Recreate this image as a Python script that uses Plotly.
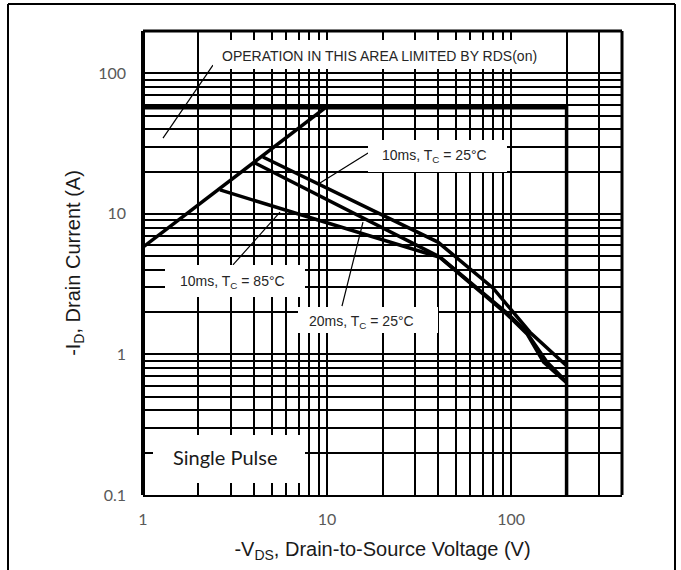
import plotly.graph_objects as go

# ---- data ---------------------------------------------------------------
# Operating-area boundaries
rds_v = [1, 9.8]
rds_i = [5.8, 57]
limit_v = [1, 200, 200]
limit_i = [57, 57, 0.1]

# Pulse curves (V_DS in volts, I_D in amps)
c10_25_v = [4.48, 40.0, 79.6, 126.5, 200]
c10_25_i = [25.4, 6.3, 2.97, 1.44, 0.83]

c20_25_v = [4.06, 41.0, 94.9, 118.9, 156.4, 200]
c20_25_i = [23.0, 4.93, 1.97, 1.49, 0.883, 0.637]

c10_85_v = [2.62, 41.0, 94.0, 122.0, 150.0, 200]
c10_85_i = [14.8, 4.90, 1.95, 1.40, 0.88, 0.63]

# Leader lines from the callouts to the curves
lead_rds_v = [2.40, 1.284]
lead_rds_i = [114.5, 34.6]
lead_10_25_v = [16.7, 9.15]
lead_10_25_i = [27.1, 16.6]
lead_10_85_v = [3.08, 5.55]
lead_10_85_i = [4.33, 10.3]
lead_20_25_v = [12.05, 15.67]
lead_20_25_i = [2.21, 8.75]

# Grid / ticks
x_major = [1, 10, 100]
x_major_text = ["1", "10", "100"]
x_minor = [2, 3, 4, 5, 6, 7, 8, 9, 20, 30, 40, 50, 60, 70, 80, 90, 200, 300, 400]
y_major = [0.1, 1, 10, 100]
y_major_text = ["0.1", "1", "10", "100"]
y_minor = [0.2, 0.3, 0.4, 0.5, 0.6, 0.7, 0.8, 0.9, 2, 3, 4, 5, 6, 7, 8, 9,
           20, 30, 40, 50, 60, 70, 80, 90, 200]

# ---- layout helpers -----------------------------------------------------
W, H = 681, 570
L, R, T, B = 143, 622, 31, 495
PW, PH = R - L, B - T

def px(x):
    return (x - L) / PW

def py(y):
    return (B - y) / PH

fig = go.Figure()

thick = dict(color="black", width=3.5)
thin = dict(color="black", width=1.2)

fig.add_trace(go.Scatter(x=rds_v, y=rds_i, mode="lines", line=thick))
fig.add_trace(go.Scatter(x=limit_v, y=limit_i, mode="lines", line=thick))
fig.add_trace(go.Scatter(x=c10_25_v, y=c10_25_i, mode="lines", line=thick))
fig.add_trace(go.Scatter(x=c20_25_v, y=c20_25_i, mode="lines", line=thick))
fig.add_trace(go.Scatter(x=c10_85_v, y=c10_85_i, mode="lines", line=thick))
for lv, li in [(lead_rds_v, lead_rds_i), (lead_10_25_v, lead_10_25_i),
               (lead_10_85_v, lead_10_85_i), (lead_20_25_v, lead_20_25_i)]:
    fig.add_trace(go.Scatter(x=lv, y=li, mode="lines", line=thin))

# white boxes behind callout text
boxes = [
    (213, 545, 40, 69),
    (368, 507, 140, 172),
    (165, 305, 265, 297),
    (298, 438, 307, 333),
    (153, 305, 435, 483),
]
shapes = []
for x0, x1, y0, y1 in boxes:
    shapes.append(dict(type="rect", xref="paper", yref="paper",
                       x0=px(x0), x1=px(x1), y0=py(y1), y1=py(y0),
                       fillcolor="white", line=dict(width=0), layer="above"))

# plot frame
shapes.append(dict(type="line", xref="paper", yref="paper", x0=0, x1=1, y0=1, y1=1,
                   line=dict(color="black", width=3), layer="above"))
shapes.append(dict(type="line", xref="paper", yref="paper", x0=1, x1=1, y0=0, y1=1,
                   line=dict(color="black", width=3), layer="above"))
shapes.append(dict(type="line", xref="paper", yref="paper", x0=0, x1=0, y0=0, y1=1,
                   line=dict(color="black", width=4), layer="above"))
# outer page border
for x0, y0, x1, y1 in [(8, 4, 8, 575), (8, 4, 675, 4), (675, 4, 675, 575)]:
    shapes.append(dict(type="line", xref="paper", yref="paper",
                       x0=px(x0), y0=py(y0), x1=px(x1), y1=py(y1),
                       line=dict(color="black", width=2), layer="above"))

label_font = dict(family="Arial, Liberation Sans, sans-serif", size=14, color="#262626")
annotations = [
    dict(text="OPERATION IN THIS AREA LIMITED BY RDS(on)", x=px(379.5), y=py(56)),
    dict(text="10ms, T<sub>C</sub> = 25°C", x=px(434), y=py(156)),
    dict(text="10ms, T<sub>C</sub> = 85°C", x=px(232.5), y=py(282)),
    dict(text="20ms, T<sub>C</sub> = 25°C", x=px(361.5), y=py(322)),
]
for a in annotations:
    a.update(xref="paper", yref="paper", showarrow=False, font=label_font,
             xanchor="center", yanchor="middle")
annotations.append(dict(text="Single Pulse", x=px(225), y=py(457), xref="paper", yref="paper",
                        showarrow=False, xanchor="center", yanchor="middle",
                        font=dict(family="Lato, sans-serif", size=20, color="#1a1a1a")))

title_font = dict(family="Arial, Liberation Sans, sans-serif", size=20, color="#1a1a1a")
tick_font = dict(family="Lato, sans-serif", size=16, color="#595959")
common = dict(type="log", showgrid=True, gridcolor="black", gridwidth=1.8, zeroline=False,
              ticks="", automargin=False, tickfont=tick_font, tickmode="array")

fig.update_layout(
    template="none",
    width=W, height=H,
    margin=dict(l=L, r=W - R, t=T, b=H - B, pad=0),
    paper_bgcolor="white", plot_bgcolor="white",
    showlegend=False,
    shapes=shapes,
    annotations=annotations,
    xaxis=dict(range=[0, 2.60206], tickvals=x_major, ticktext=x_major_text,
               showline=True, linecolor="black", linewidth=2, ticklabelstandoff=9,
               title=dict(text="-V<sub>DS</sub>, Drain-to-Source Voltage (V)",
                          font=title_font, standoff=15),
               minor=dict(tickmode="array", tickvals=x_minor, showgrid=True,
                          gridcolor="black", gridwidth=1.8, ticks=""),
               **common),
    yaxis=dict(range=[-1, 2.30103], tickvals=y_major, ticktext=y_major_text,
               showline=False, ticklabelstandoff=16,
               title=dict(text="-I<sub>D</sub>, Drain Current (A)",
                          font=title_font, standoff=12),
               minor=dict(tickmode="array", tickvals=y_minor, showgrid=True,
                          gridcolor="black", gridwidth=1.8, ticks=""),
               **common),
)

fig.write_html("out.html")
